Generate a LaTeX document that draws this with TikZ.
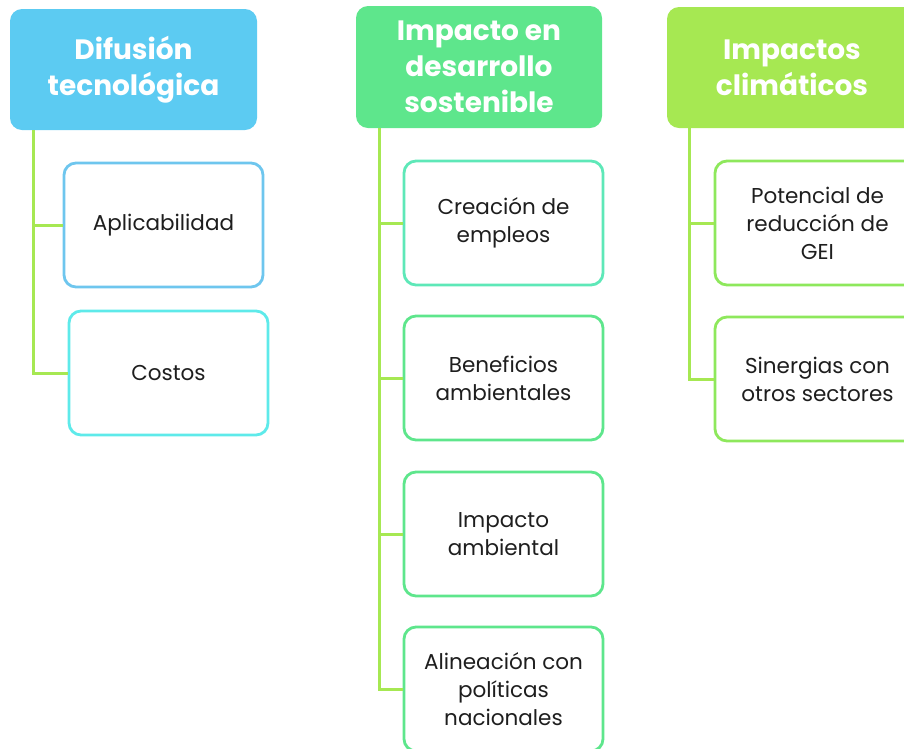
\documentclass[tikz,border=0pt]{standalone}
\usepackage{fontspec}
\setmainfont{Poppins}
\definecolor{hblue}{HTML}{5CCBF2}
\definecolor{hgreen}{HTML}{5EE68C}
\definecolor{hlime}{HTML}{A6E852}
\definecolor{linec}{HTML}{A6E852}
\definecolor{bblue}{HTML}{6EC6EE}
\definecolor{bcyan}{HTML}{5EEAEA}
\definecolor{bteal}{HTML}{5EE8B8}
\definecolor{bgreen}{HTML}{5EE68C}
\definecolor{blime}{HTML}{8EE85C}
\definecolor{txt}{HTML}{1E1E1E}
\begin{document}
\begin{tikzpicture}[x=1pt,y=-1pt,
  header/.style={rounded corners=12pt, text=white, align=center, inner sep=0pt,
    font=\fontsize{28}{36}\selectfont\bfseries},
  child/.style={draw, line width=2.8pt, fill=white, rounded corners=12pt, text=txt, align=center,
    minimum width=199pt, minimum height=124pt, inner sep=0pt,
    font=\fontsize{21.5}{28}\selectfont},
  conn/.style={draw=linec, line width=3pt}]
\useasboundingbox (0,0) rectangle (904,748);
\clip (0,0) rectangle (904,748);
% headers
\node[header, fill=hblue, minimum width=247pt, minimum height=121pt] (h1) at (133.5,69.5) {Difusión\\tecnológica};
\node[header, fill=hgreen, minimum width=246pt, minimum height=122pt] (h2) at (479,67) {Impacto en\\desarrollo\\sostenible};
\node[header, fill=hlime, minimum width=250pt, minimum height=121pt, text width=237pt] (h3) at (792,67.5) {Impactos\\climáticos};
% connector origins
\coordinate (v1) at ([xshift=24pt]h1.south west);
\coordinate (v2) at ([xshift=24pt]h2.south west);
\coordinate (v3) at ([xshift=23pt]h3.south west);
% children
\node[child, draw=bblue] (c11) at (163.5,225) {Aplicabilidad};
\node[child, draw=bcyan] (c12) at (168.5,373) {Costos};
\node[child, draw=bteal] (c21) at (503.5,223) {Creación de\\empleos};
\node[child, draw=bgreen] (c22) at (503.5,378) {Beneficios\\ambientales};
\node[child, draw=bgreen] (c23) at (503.5,534) {Impacto\\ambiental};
\node[child, draw=bgreen] (c24) at (503.5,689) {Alineación con\\políticas\\nacionales};
\node[child, draw=blime, minimum width=205pt] (c31) at (817.5,223) {Potencial de\\reducción de\\GEI};
\node[child, draw=blime, minimum width=205pt] (c32) at (817.5,379) {Sinergias con\\otros sectores};
\draw[conn] (v1) |- (c11.west);
\draw[conn] (v1) |- (c12.west);
\draw[conn] (v2) |- (c21.west);
\draw[conn] (v2) |- (c22.west);
\draw[conn] (v2) |- (c23.west);
\draw[conn] (v2) |- (c24.west);
\draw[conn] (v3) |- (c31.west);
\draw[conn] (v3) |- (c32.west);
\end{tikzpicture}
\end{document}
